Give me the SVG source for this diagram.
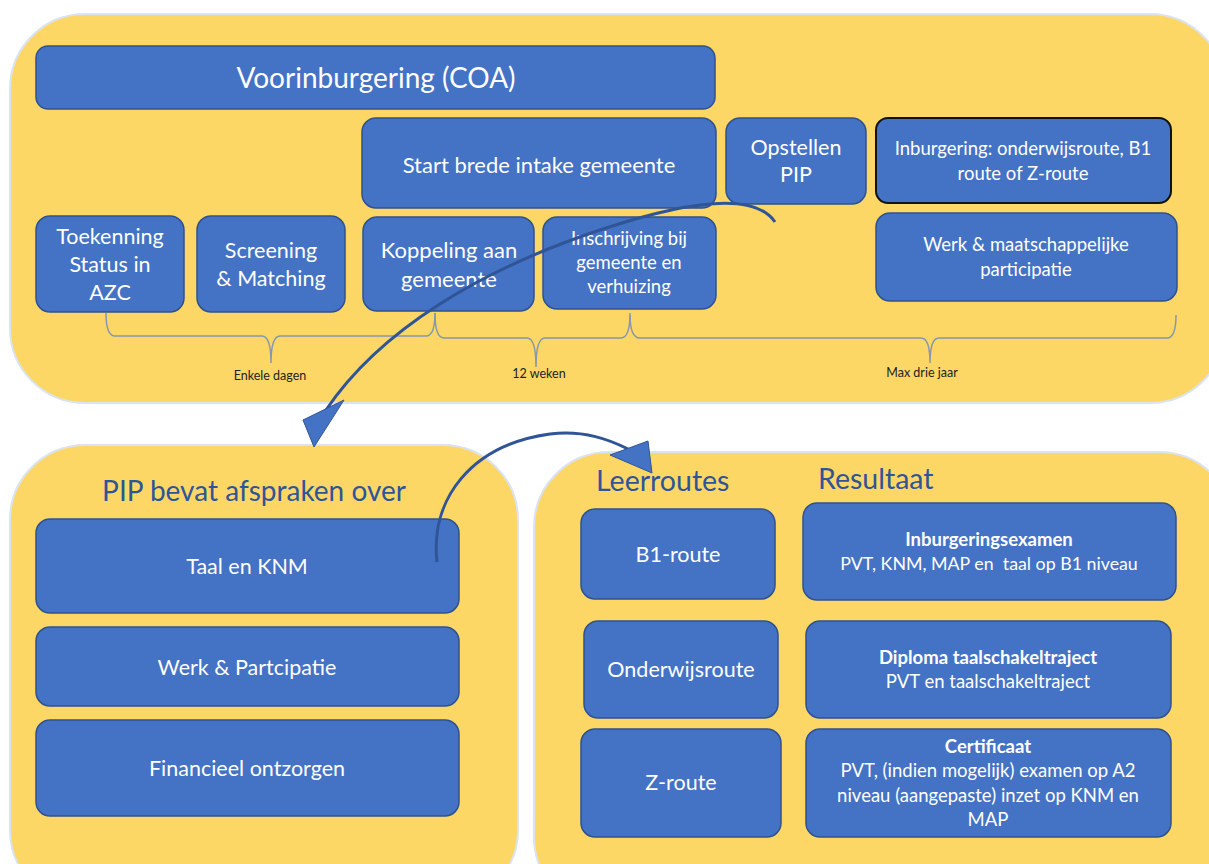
<svg xmlns="http://www.w3.org/2000/svg" width="1209" height="864" viewBox="0 0 1209 864">
<style>
.panel{fill:#FDD766;stroke:#DAE3F3;stroke-width:2}
.box{fill:#4472C4;stroke:#2F528F;stroke-width:1.5}
.t{font-family:Lato,"Open Sans",sans-serif;fill:#FFFFFF;text-anchor:middle;white-space:pre}
.h{font-family:Lato,"Open Sans",sans-serif;fill:#2F5597}
.brace{fill:none;stroke:#8497B0;stroke-width:1.5}
.bl{font-family:Lato,"Open Sans",sans-serif;fill:#222;font-size:12.5px;text-anchor:middle}
.arr{fill:none;stroke:#2F5597;stroke-width:3;stroke-linecap:butt}
.head{fill:#4472C4;stroke:#2F5597;stroke-width:1}
.m{font-size:21.5px}
.s{font-size:18.5px}
.b{font-size:18.5px;font-weight:bold}
</style>
<rect width="1209" height="864" fill="#FFFFFF"/>
<g id="panel-top"><rect class="panel" x="10" y="14" width="1215" height="389" rx="75"/></g>
<g id="panel-pip"><rect class="panel" x="10" y="445" width="508" height="460" rx="75"/>
<text class="h" x="254" y="501" font-size="28" text-anchor="middle">PIP bevat afspraken over</text></g>
<g id="panel-routes"><rect class="panel" x="534" y="452" width="700" height="460" rx="75"/>
<text class="h" x="596" y="491" font-size="28.5">Leerroutes</text>
<text class="h" x="818" y="489" font-size="28.5">Resultaat</text></g>

<g id="voorinburgering"><rect class="box" x="36" y="46" width="679" height="63" rx="12"/>
<text class="t" x="376" y="88" font-size="28">Voorinburgering (COA)</text></g>
<g id="start-intake"><rect class="box" x="362" y="118" width="354" height="90" rx="14"/>
<text class="t" x="539" y="173" font-size="22">Start brede intake gemeente</text></g>
<g id="opstellen-pip"><rect class="box" x="726" y="118" width="140" height="86" rx="14"/>
<text class="t m" x="796" y="155">Opstellen</text>
<text class="t m" x="796" y="182">PIP</text></g>
<g id="inburgering"><rect x="876" y="118" width="295" height="85" rx="12" fill="#4472C4" stroke="#111" stroke-width="2"/>
<text class="t s" x="1023" y="155">Inburgering: onderwijsroute, B1</text>
<text class="t s" x="1023" y="180">route of Z-route</text></g>
<g id="werk-maatschappelijk"><rect class="box" x="876" y="213" width="301" height="88" rx="14"/>
<text class="t s" x="1026" y="251">Werk &amp; maatschappelijke</text>
<text class="t s" x="1026" y="276">participatie</text></g>
<g id="toekenning"><rect class="box" x="36" y="216" width="148" height="96" rx="14"/>
<text class="t m" x="110" y="244">Toekenning</text>
<text class="t m" x="110" y="272">Status in</text>
<text class="t m" x="110" y="300">AZC</text></g>
<g id="screening"><rect class="box" x="197" y="216" width="148" height="96" rx="14"/>
<text class="t m" x="271" y="258">Screening</text>
<text class="t m" x="271" y="286">&amp; Matching</text></g>
<g id="koppeling"><rect class="box" x="363" y="217" width="171" height="94" rx="14"/>
<text class="t" x="449" y="258" font-size="22">Koppeling aan</text>
<text class="t" x="449" y="287" font-size="22">gemeente</text></g>
<g id="inschrijving"><rect class="box" x="543" y="217" width="173" height="92" rx="14"/>
<text class="t s" x="629" y="245">Inschrijving bij</text>
<text class="t s" x="629" y="269">gemeente en</text>
<text class="t s" x="629" y="293">verhuizing</text></g>

<g id="braces">
<path class="brace" d="M106,313 Q106,336 115,336 L262,336 Q271,336 271,363 Q271,336 280,336 L426,336 Q435,336 435,313"/>
<text class="bl" x="270" y="380">Enkele dagen</text>
<path class="brace" d="M435,313 Q435,338 444,338 L527,338 Q536,338 536,367 Q536,338 545,338 L621,338 Q630,338 630,313"/>
<text class="bl" x="539" y="378">12 weken</text>
<path class="brace" d="M630,315 Q630,338 640,338 L921,338 Q930,338 930,363 Q930,338 939,338 L1167,338 Q1176,338 1176,315"/>
<text class="bl" x="922" y="377">Max drie jaar</text>
</g>

<g id="taal-knm"><rect class="box" x="36" y="519" width="423" height="94" rx="14"/>
<text class="t m" x="247" y="574">Taal en KNM</text></g>
<g id="werk-participatie"><rect class="box" x="36" y="627" width="423" height="79" rx="14"/>
<text class="t m" x="247" y="675">Werk &amp; Partcipatie</text></g>
<g id="financieel"><rect class="box" x="36" y="720" width="423" height="96" rx="14"/>
<text class="t m" x="247" y="776">Financieel ontzorgen</text></g>

<g id="b1-route"><rect class="box" x="581" y="509" width="194" height="90" rx="14"/>
<text class="t m" x="678" y="562">B1-route</text></g>
<g id="inburgeringsexamen"><rect class="box" x="803" y="503" width="373" height="97" rx="14"/>
<text class="t b" x="989" y="546">Inburgeringsexamen</text>
<text class="t" x="989" y="570" font-size="17.8">PVT, KNM, MAP en  taal op B1 niveau</text></g>
<g id="onderwijsroute"><rect class="box" x="584" y="621" width="194" height="97" rx="14"/>
<text class="t m" x="681" y="677">Onderwijsroute</text></g>
<g id="diploma"><rect class="box" x="806" y="621" width="365" height="97" rx="14"/>
<text class="t b" x="988" y="664">Diploma taalschakeltraject</text>
<text class="t s" x="988" y="688">PVT en taalschakeltraject</text></g>
<g id="z-route"><rect class="box" x="581" y="729" width="200" height="108" rx="14"/>
<text class="t m" x="681" y="790">Z-route</text></g>
<g id="certificaat"><rect class="box" x="806" y="729" width="365" height="108" rx="14"/>
<text class="t b" x="988" y="753">Certificaat</text>
<text class="t s" x="988" y="777">PVT, (indien mogelijk) examen op A2</text>
<text class="t s" x="988" y="802">niveau (aangepaste) inzet op KNM en</text>
<text class="t s" x="988" y="826">MAP</text></g>

<g id="connectors">
<path class="arr" d="M775,222 C755,192 690,200 600,230 C480,270 380,330 326,410"/>
<polygon class="head" points="303,420 344,400 314,447"/>
<path class="arr" d="M437,562 C430,500 470,445 550,434 C585,430 610,440 628,449"/>
<polygon class="head" points="610,455 648,441 652,473"/>
</g>
</svg>
